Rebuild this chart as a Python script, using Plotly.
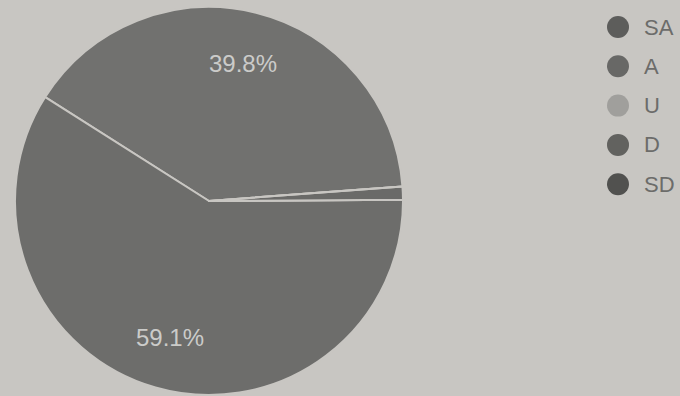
import math
import plotly.graph_objects as go

# Survey response shares (percent)
labels = ["SA", "A", "U", "D", "SD"]
values = [39.8, 59.1, 0.0, 1.1, 0.0]
colors = ["#71716f", "#6d6d6b", "#a09f9c", "#6a6a68", "#555553"]
legend_colors = ["#5d5d5b", "#686866", "#a09f9c", "#62625f", "#51514f"]

W, H = 680, 396
BG = "#c8c6c2"

# Pie geometry in pixels
CX, CY, R = 209, 201, 194
ROTATION = -57.6

fig = go.Figure()
fig.add_trace(go.Pie(
    labels=labels,
    values=values,
    textinfo="none",
    marker=dict(colors=colors, line=dict(color=BG, width=2)),
    sort=False,
    direction="counterclockwise",
    rotation=ROTATION,
    showlegend=False,
    hoverinfo="label+percent",
    domain=dict(x=[(CX - R) / W, (CX + R) / W],
                y=[(H - CY - R) / H, (H - CY + R) / H]),
))

annotations, shapes = [], []

# Percentage labels placed at each large slice's mid-angle
total = sum(values)
spans = [360 * v / total for v in values]
start = 90 - ROTATION - spans[0]
for lab, v, span in zip(labels, values, spans):
    mid = math.radians(start + span / 2)
    start += span
    if v < 5:
        continue
    px = CX + 0.73 * R * math.cos(mid)
    py = CY - 0.73 * R * math.sin(mid)
    annotations.append(dict(
        x=px / W, y=(H - py) / H, xref="paper", yref="paper",
        xanchor="center", yanchor="middle", showarrow=False,
        text=f"{v:.1f}%",
        font=dict(family="Liberation Sans", size=24, color="#cbcbc9"),
    ))

# Legend drawn as circles with labels to the right
legend_x, text_x = 618, 642
legend_y0, legend_step, r = 27, 39.3, 11
for i, (lab, col) in enumerate(zip(labels, legend_colors)):
    cy = legend_y0 + i * legend_step
    shapes.append(dict(
        type="circle", xref="paper", yref="paper",
        xsizemode="pixel", ysizemode="pixel",
        xanchor=legend_x / W, yanchor=(H - cy) / H,
        x0=-r, x1=r, y0=-r, y1=r,
        fillcolor=col, line=dict(width=0),
    ))
    annotations.append(dict(
        x=text_x / W, y=(H - cy) / H, xref="paper", yref="paper",
        xanchor="left", yanchor="middle", showarrow=False,
        text=lab, font=dict(family="Liberation Sans", size=22, color="#6c6c6a"),
    ))

fig.update_layout(
    width=W, height=H,
    margin=dict(l=0, r=0, t=0, b=0),
    paper_bgcolor=BG, plot_bgcolor=BG,
    shapes=shapes, annotations=annotations,
)

fig.write_html("out.html")
